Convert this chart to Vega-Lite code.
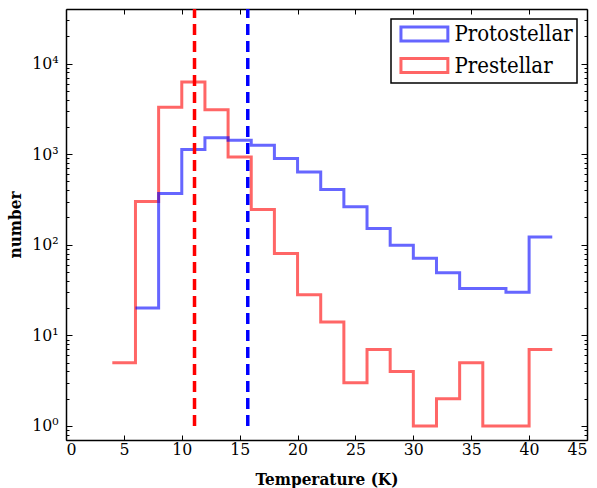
{
  "$schema": "https://vega.github.io/schema/vega-lite/v6.json",
  "width": 521,
  "height": 431,
  "autosize": "none",
  "padding": {"left": 66, "top": 9, "right": 10, "bottom": 48},
  "background": "white",
  "config": {
    "view": {"stroke": null},
    "axis": {
      "grid": false,
      "domainColor": "black",
      "domainWidth": 1.5,
      "tickColor": "black",
      "tickWidth": 1,
      "labelFontSize": 17.5,
      "labelColor": "black",
      "labelOverlap": false,
      "titleFontSize": 17,
      "titleFontWeight": "bold",
      "titleColor": "black"
    },
    "legend": {
      "strokeColor": "black",
      "strokeWidth": 1.5,
      "fillColor": "white",
      "cornerRadius": 0,
      "labelFontSize": 22,
      "labelColor": "black"
    }
  },
  "datasets": {
    "hist": [
      {"sample": "Prestellar", "T": 4, "n": 5},
      {"sample": "Prestellar", "T": 6, "n": 300},
      {"sample": "Prestellar", "T": 8, "n": 3300},
      {"sample": "Prestellar", "T": 10, "n": 6250},
      {"sample": "Prestellar", "T": 12, "n": 3100},
      {"sample": "Prestellar", "T": 14, "n": 930},
      {"sample": "Prestellar", "T": 16, "n": 245},
      {"sample": "Prestellar", "T": 18, "n": 80},
      {"sample": "Prestellar", "T": 20, "n": 28},
      {"sample": "Prestellar", "T": 22, "n": 14},
      {"sample": "Prestellar", "T": 24, "n": 3},
      {"sample": "Prestellar", "T": 26, "n": 7},
      {"sample": "Prestellar", "T": 28, "n": 4},
      {"sample": "Prestellar", "T": 30, "n": 1},
      {"sample": "Prestellar", "T": 32, "n": 2},
      {"sample": "Prestellar", "T": 34, "n": 5},
      {"sample": "Prestellar", "T": 36, "n": 1},
      {"sample": "Prestellar", "T": 38, "n": 1},
      {"sample": "Prestellar", "T": 40, "n": 7},
      {"sample": "Prestellar", "T": 42, "n": 7},
      {"sample": "Protostellar", "T": 6, "n": 20},
      {"sample": "Protostellar", "T": 8, "n": 367},
      {"sample": "Protostellar", "T": 10, "n": 1125},
      {"sample": "Protostellar", "T": 12, "n": 1520},
      {"sample": "Protostellar", "T": 14, "n": 1420},
      {"sample": "Protostellar", "T": 16, "n": 1250},
      {"sample": "Protostellar", "T": 18, "n": 894},
      {"sample": "Protostellar", "T": 20, "n": 637},
      {"sample": "Protostellar", "T": 22, "n": 407},
      {"sample": "Protostellar", "T": 24, "n": 262},
      {"sample": "Protostellar", "T": 26, "n": 151},
      {"sample": "Protostellar", "T": 28, "n": 99},
      {"sample": "Protostellar", "T": 30, "n": 71},
      {"sample": "Protostellar", "T": 32, "n": 49},
      {"sample": "Protostellar", "T": 34, "n": 33},
      {"sample": "Protostellar", "T": 36, "n": 33},
      {"sample": "Protostellar", "T": 38, "n": 30},
      {"sample": "Protostellar", "T": 40, "n": 122},
      {"sample": "Protostellar", "T": 42, "n": 122}
    ],
    "medians": [
      {"sample": "Prestellar", "T": 11.1},
      {"sample": "Protostellar", "T": 15.7}
    ]
  },
  "layer": [
    {
      "data": {"name": "hist"},
      "mark": {"type": "line", "interpolate": "step-after", "strokeWidth": 3, "opacity": 0.6},
      "encoding": {
        "x": {
          "field": "T",
          "type": "quantitative",
          "scale": {"domain": [0, 45], "nice": false, "zero": false},
          "axis": {
            "orient": "bottom",
            "title": "Temperature (K)",
            "values": [0, 5, 10, 15, 20, 25, 30, 35, 40, 45],
            "tickSize": -5,
            "labelFont": "DejaVu Serif Condensed",
            "titleFont": "DejaVu Serif Condensed",
            "labelPadding": 5.5,
            "titlePadding": 13
          }
        },
        "y": {
          "field": "n",
          "type": "quantitative",
          "scale": {"type": "log", "domain": [0.7, 40000], "nice": false},
          "axis": {
            "orient": "left",
            "title": "number",
            "values": [0.7, 0.8, 0.9, 1, 2, 3, 4, 5, 6, 7, 8, 9, 10, 20, 30, 40, 50, 60, 70, 80, 90, 100, 200, 300, 400, 500, 600, 700, 800, 900, 1000, 2000, 3000, 4000, 5000, 6000, 7000, 8000, 9000, 10000, 20000, 30000],
            "tickSize": {"condition": {"test": "abs(log(datum.value)/LN10 - round(log(datum.value)/LN10)) < 0.001", "value": -6}, "value": -3},
            "labelExpr": "abs(log(datum.value)/LN10 - round(log(datum.value)/LN10)) < 0.001 ? '10' + ['⁰','¹','²','³','⁴'][round(log(datum.value)/LN10)] : ''",
            "labelFont": "DejaVu Serif Condensed",
            "titleFont": "DejaVu Serif Condensed",
            "labelPadding": 14,
            "titlePadding": 7
          }
        },
        "color": {
          "field": "sample",
          "type": "nominal",
          "scale": {"domain": ["Protostellar", "Prestellar"], "range": ["#0000ff", "#ff0000"]},
          "legend": {
            "title": null,
            "orient": "top-right",
            "offset": 10,
            "padding": 4,
            "symbolType": "M-3.35,-1H3.35V1H-3.35Z",
            "symbolSize": 196,
            "symbolStrokeWidth": 3,
            "symbolFillColor": "transparent",
            "symbolOpacity": 0.6,
            "symbolOffset": 18.4,
            "labelOffset": 19,
            "labelFont": "DejaVu Serif Condensed",
            "labelFontSize": 22,
            "labelColor": "black",
            "labelLimit": 300,
            "rowPadding": 5.5
          }
        }
      }
    },
    {
      "data": {"name": "medians"},
      "mark": {"type": "rule", "strokeWidth": 3.5, "strokeDash": [11, 6], "clip": true},
      "encoding": {
        "x": {
          "field": "T",
          "type": "quantitative",
          "axis": {
            "orient": "top",
            "title": null,
            "labels": false,
            "values": [0, 5, 10, 15, 20, 25, 30, 35, 40, 45],
            "tickSize": -5
          }
        },
        "y": {
          "datum": 1,
          "type": "quantitative",
          "axis": {
            "orient": "right",
            "title": null,
            "labels": false,
            "values": [0.7, 0.8, 0.9, 1, 2, 3, 4, 5, 6, 7, 8, 9, 10, 20, 30, 40, 50, 60, 70, 80, 90, 100, 200, 300, 400, 500, 600, 700, 800, 900, 1000, 2000, 3000, 4000, 5000, 6000, 7000, 8000, 9000, 10000, 20000, 30000],
            "tickSize": {"condition": {"test": "abs(log(datum.value)/LN10 - round(log(datum.value)/LN10)) < 0.001", "value": -6}, "value": -3}
          }
        },
        "y2": {"datum": 100000},
        "color": {"field": "sample", "type": "nominal"}
      }
    }
  ],
  "resolve": {"axis": {"x": "independent", "y": "independent"}}
}
